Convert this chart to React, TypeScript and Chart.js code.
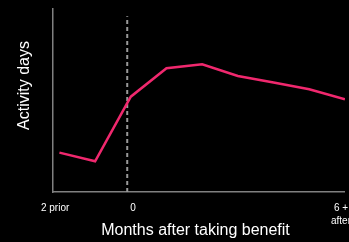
import React, { useEffect, useRef } from "react";
import { Chart, registerables } from "chart.js";

Chart.register(...registerables);

const months = [-2, -1, 0, 1, 2, 3, 4, 5, 6];
const activityDays = [21.5, 16.8, 52.1, 67.6, 69.8, 63.4, 59.8, 56.1, 50.7];
const tickValues = [-2.12, 0.06, 5.89];
const tickLabels: (string | string[])[] = ["2 prior", "0", ["6 +", "after"]];
const benefitMonth = -0.1;
const benefitLineTop = 96;
const xTitle = "Months after taking benefit";
const yTitle = "Activity days";

const FONT = "Arial, 'Liberation Sans', sans-serif";

const titlesPlugin = {
  id: "titles",
  afterDraw(chart: any) {
    const ctx = chart.ctx;
    ctx.save();
    ctx.fillStyle = "#ffffff";
    ctx.font = `16px ${FONT}`;
    ctx.textAlign = "center";
    ctx.textBaseline = "middle";
    ctx.fillText(xTitle, 195.5, 231);
    ctx.translate(25, 85.5);
    ctx.rotate(-Math.PI / 2);
    ctx.fillText(yTitle, 0, 0);
    ctx.restore();
  },
};

export default function App() {
  const ref = useRef<HTMLCanvasElement>(null);
  useEffect(() => {
    document.body.style.margin = "0";
    document.body.style.background = "#000";
    const chart = new Chart(ref.current!, {
      type: "line",
      data: {
        datasets: [
          {
            data: months.map((m, i) => ({ x: m, y: activityDays[i] })),
            borderColor: "#f0286e",
            borderWidth: 2.5,
            pointRadius: 0,
            tension: 0,
          },
          {
            data: [
              { x: benefitMonth, y: 0 },
              { x: benefitMonth, y: benefitLineTop },
            ],
            borderColor: "#999999",
            borderWidth: 2,
            borderDash: [4, 3],
            pointRadius: 0,
          },
        ],
      },
      options: {
        animation: false,
        responsive: false,
        maintainAspectRatio: false,
        layout: { padding: { top: 9, left: 0, right: 0, bottom: 0 } },
        plugins: { legend: { display: false }, tooltip: { enabled: false } },
        scales: {
          x: {
            type: "linear",
            min: -2.18,
            max: 6,
            grid: { display: false, drawTicks: false },
            border: { display: true, color: "#808080", width: 1.5 },
            afterBuildTicks: (s: any) => {
              s.ticks = tickValues.map((v) => ({ value: v }));
            },
            afterFit: (s: any) => {
              s.height = 50;
            },
            ticks: {
              color: "#ffffff",
              font: { family: FONT, size: 10, lineHeight: 1.3 },
              padding: 10,
              maxRotation: 0,
              autoSkip: false,
              callback: (_v: any, i: number) => tickLabels[i] ?? "",
            },
            title: { display: false },
          },
          y: {
            min: 0,
            max: 100,
            grid: { display: false, drawTicks: false },
            border: { display: true, color: "#808080", width: 1.5 },
            ticks: { display: false },
            afterFit: (s: any) => {
              s.width = 53;
            },
          },
        },
      },
      plugins: [titlesPlugin],
    });
    return () => chart.destroy();
  }, []);
  return (
    <div style={{ width: 349, height: 242, overflow: "hidden", background: "#000" }}>
      <canvas ref={ref} width={361} height={242} style={{ display: "block" }} />
    </div>
  );
}
